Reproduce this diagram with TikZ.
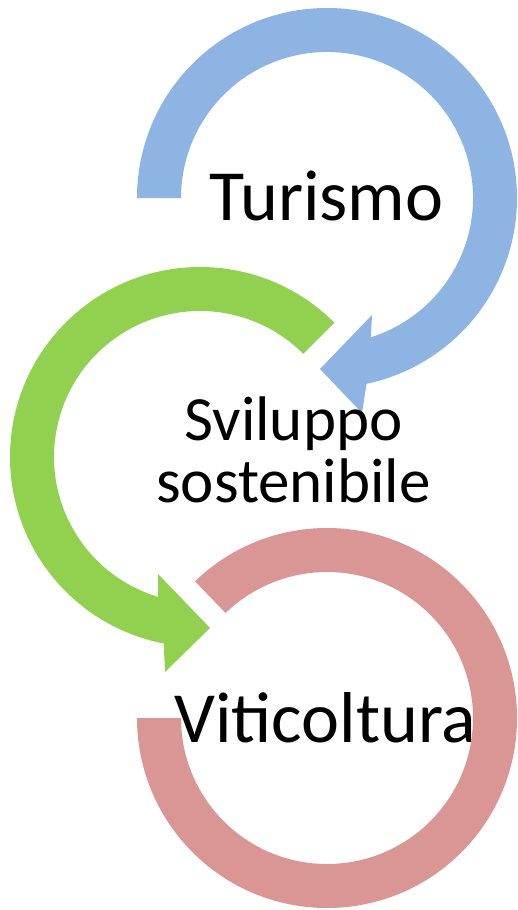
\documentclass[tikz,border=0pt]{standalone}
\usepackage{fontspec}
\setmainfont{Carlito}
\definecolor{arcblue}{HTML}{8EB4E3}
\definecolor{arcgreen}{HTML}{92D050}
\definecolor{arcred}{HTML}{D99694}
\begin{document}
\begin{tikzpicture}[x=1pt,y=1pt,
  bigtext/.style={anchor=base,inner sep=0pt,font=\fontsize{72}{72}\selectfont},
  midtext/.style={anchor=base,inner sep=0pt,font=\fontsize{63}{63}\selectfont}]
\useasboundingbox (0,0) rectangle (517,-910);
\fill[white] (0,0) rectangle (517,-910);
% centres
\coordinate (cb) at (327,-198);
\coordinate (cg) at (200,-457);
\coordinate (cr) at (327,-718);
% blue arrow (clockwise)
\fill[arcblue] ([shift={(cb)}]180:190pt) arc[start angle=180,end angle=-78,radius=190pt]
  -- (362,-413) -- (320,-369) -- (372,-315)
  -- ([shift={(cb)}]-72.5:146pt) arc[start angle=-72.5,end angle=180,radius=146pt] -- cycle;
% green arrow (counter-clockwise)
\fill[arcgreen] ([shift={(cg)}]45:190pt) arc[start angle=45,end angle=259,radius=190pt]
  -- (165,-672) -- (210,-628) -- (158,-574)
  -- ([shift={(cg)}]253.3:146pt) arc[start angle=253.3,end angle=45,radius=146pt] -- cycle;
% red ring segment
\fill[arcred] ([shift={(cr)}]134:190pt) arc[start angle=134,end angle=-180,radius=190pt]
  -- ([shift={(cr)}]180:146pt) arc[start angle=-180,end angle=134,radius=146pt] -- cycle;
% texts
\node[bigtext] (tur) at (326.5,-220) {Turismo};
\node[midtext] (svi) at (293.5,-440) {Sviluppo};
\node[midtext] (sos) at (293.5,-502) {sostenibile};
\node[bigtext] (vit) at (325.5,-742) {Viticoltura};
\end{tikzpicture}
\end{document}
